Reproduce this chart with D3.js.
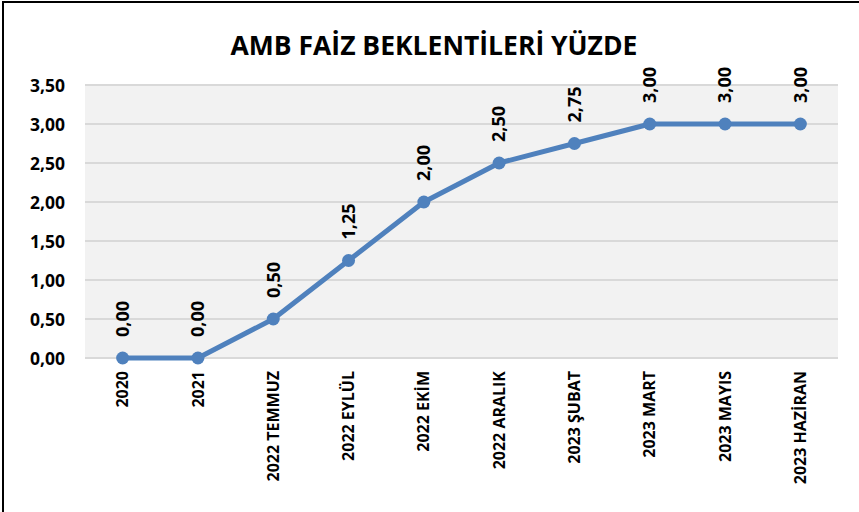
<!DOCTYPE html>
<html>
<head>
<meta charset="utf-8">
<script src="https://d3js.org/d3.v7.min.js"></script>
<style>
  body { margin: 0; background: #fff; }
  text { font-family: "Open Sans", "Noto Sans", sans-serif; font-weight: bold; fill: #000; }
</style>
</head>
<body>
<div id="chart"></div>
<script>
let w = 859;
let h = 512;

// data
let categories = ["2020", "2021", "2022 TEMMUZ", "2022 EYLÜL", "2022 EKİM", "2022 ARALIK",
  "2023 ŞUBAT", "2023 MART", "2023 MAYIS", "2023 HAZİRAN"];
let values = [0, 0, 0.5, 1.25, 2.0, 2.5, 2.75, 3.0, 3.0, 3.0];
let yTicks = [0, 0.5, 1, 1.5, 2, 2.5, 3, 3.5];

let plotLeft = 85, plotRight = 838, plotTop = 85, plotBottom = 358;

let svg = d3.select("#chart").append("svg")
  .attr("width", w)
  .attr("height", h);

// outer frame (only left and top edges visible in picture)
svg.append("rect")
  .attr("x", 3).attr("y", 2)
  .attr("width", w + 10).attr("height", h + 10)
  .attr("fill", "none")
  .attr("stroke", "#000")
  .attr("stroke-width", 2);

let fmt = d => d3.format(".2f")(d).replace(".", ",");

let x = d3.scaleBand().domain(categories).range([plotLeft, plotRight]);
let y = d3.scaleLinear().domain([0, 3.5]).range([plotBottom, plotTop]);

// plot background
svg.append("rect")
  .attr("x", plotLeft).attr("y", plotTop)
  .attr("width", plotRight - plotLeft).attr("height", plotBottom - plotTop)
  .attr("fill", "#f2f2f2");

// gridlines
svg.append("g").selectAll("line").data(yTicks).enter()
  .append("line")
  .attr("x1", plotLeft).attr("x2", plotRight)
  .attr("y1", d => y(d)).attr("y2", d => y(d))
  .attr("stroke", "#d9d9d9")
  .attr("stroke-width", 2);

// y axis
let yAxis = d3.axisLeft(y).tickValues(yTicks).tickFormat(fmt).tickSize(0).tickPadding(20);
let yg = svg.append("g").attr("transform", `translate(${plotLeft},0)`).call(yAxis);
yg.select(".domain").remove();
yg.selectAll("text").style("font-size", "17.5px").attr("dy", "0.35em")
  .style("font-family", "'Open Sans', sans-serif").style("font-weight", "bold");

// x axis
let xAxis = d3.axisBottom(x).tickSize(0);
let xg = svg.append("g").attr("transform", `translate(0,${plotBottom})`).call(xAxis);
xg.select(".domain").remove();
xg.selectAll("text")
  .style("font-size", "16px")
  .style("font-family", "'Open Sans', sans-serif").style("font-weight", "bold")
  .attr("text-anchor", "end")
  .attr("transform", "rotate(-90)")
  .attr("x", -13).attr("y", 0).attr("dy", "0.35em");

// line
let line = d3.line()
  .x((d, i) => x(categories[i]) + x.bandwidth() / 2)
  .y(d => y(d));

svg.append("path")
  .datum(values)
  .attr("d", line)
  .attr("fill", "none")
  .attr("stroke", "#4f81bd")
  .attr("stroke-width", 5)
  .attr("stroke-linejoin", "round");

svg.selectAll(".pt").data(values).enter()
  .append("circle")
  .attr("class", "pt")
  .attr("cx", (d, i) => x(categories[i]) + x.bandwidth() / 2)
  .attr("cy", d => y(d))
  .attr("r", 6.5)
  .attr("fill", "#4f81bd");

// data labels
svg.selectAll(".lbl").data(values).enter()
  .append("text")
  .attr("class", "lbl")
  .attr("transform", (d, i) => `translate(${x(categories[i]) + x.bandwidth() / 2},${y(d) - 21}) rotate(-90)`)
  .attr("dy", "0.35em")
  .style("font-size", "18px")
  .text(d => fmt(d));

// title
svg.append("text")
  .attr("x", 434).attr("y", 55)
  .attr("text-anchor", "middle")
  .style("font-size", "26.5px")
  .text("AMB FAİZ BEKLENTİLERİ YÜZDE");
</script>
</body>
</html>
